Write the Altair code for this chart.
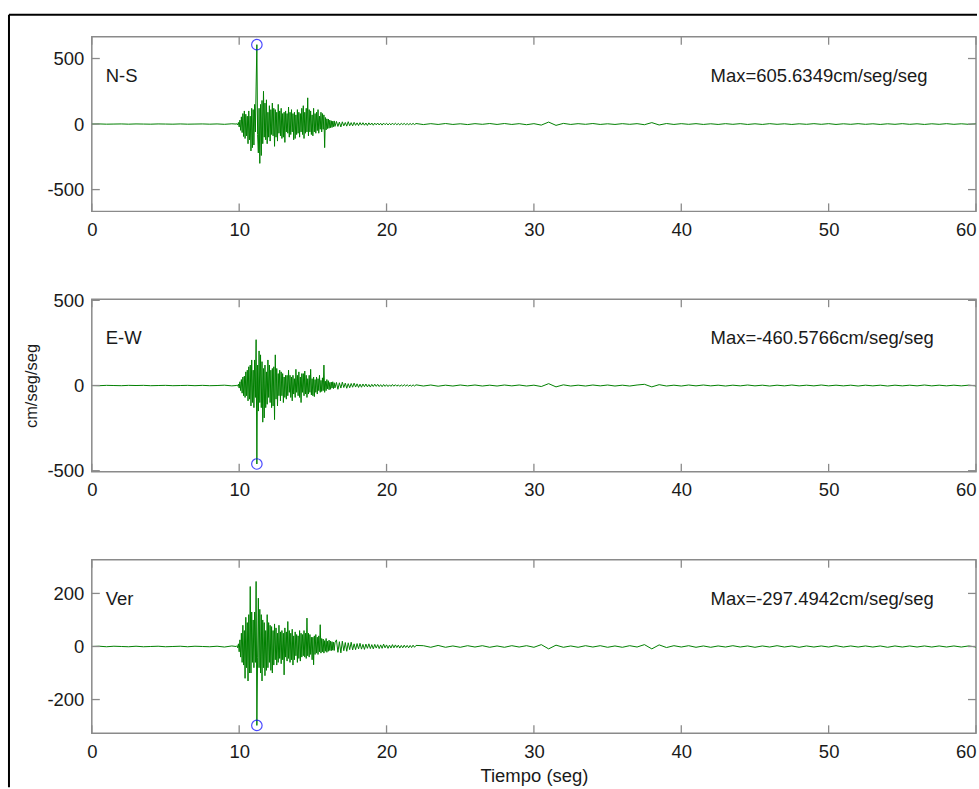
import altair as alt
import pandas as pd

# ---------------- data ----------------
components = ["N-S", "E-W", "Ver"]
max_labels = ["Max=605.6349cm/seg/seg", "Max=-460.5766cm/seg/seg", "Max=-297.4942cm/seg/seg"]
peak_t = [11.2, 11.2, 11.2]
peak_v = [605.6349, -460.5766, -297.4942]
y_ticks = [[-500, 0, 500], [-500, 0, 500], [-200, 0, 200]]
x_ticks = [0, 10, 20, 30, 40, 50, 60]

# sampling grid of each segment: (start, step)
seg_pre = (0.0, 0.5)
seg_strong = (9.8, 0.05)
seg_coda1 = (16.6, 0.1)
seg_coda2 = (22.5, 0.5)

# N-S
pre_ns = [0, 1, -1, 0, 1, -1, 1, 0, -1, 1, 0, -1, 1, -1, 0, 1, -1, 1, -2, 2]
strong_ns = [0, 3, -6, 12, -22, 30, -48, 55, -65, 80,
             -95, 100, -110, 75, -90, 60, -150, 100, -120, 60,
             -205, 120, -180, 110, -160, 150, -60, 290, 605.6349, -80,
             -220, 120, -300, 150, -240, 180, -150, 250, -100, 160,
             -120, 185, -150, 90, -100, 140, -130, 110, -80, 160,
             -90, 120, -170, 110, -100, 90, -130, 150, -70, 100,
             -90, 120, -110, 80, -100, 90, -140, 100, -60, 80,
             -70, 130, -100, 90, -80, 110, -60, 80, -120, 90,
             -110, 70, -80, 110, -70, 90, -100, 80, -60, 120,
             -80, 140, -110, 90, -70, 120, -60, 200, -90, 110,
             -60, 100, -80, 70, -90, 120, -60, 80, -70, 90,
             -50, 110, -70, 60, -40, 90, -60, 80, -40, 70,
             -180, 50, -45, 40, -35, 38, -32, 30, -28, 25,
             -26, 22, -20, 24, -18]
coda1_ns = [20, -18, 15, -22, 17, -14, 12, -16, 18, -13,
            11, -14, 13, -10, 9, -12, 11, -8, 10, -9,
            8, -11, 9, -7, 8, -9, 7, -6, 8, -7,
            6, -8, 7, -5, 6, -7, 5, -6, 7, -5,
            6, -5, 4, -6, 5, -4, 5, -5, 4, -5,
            4, -4, 5, -4, 4]
coda2_ns = [-4, 3, -3, 4, -3, 2, -4, 3, -2, 4,
            -3, 4, -3, 3, -5, 3, -8, 15, -10, 5,
            -3, 3, -2, 4, -3, 2, -3, 3, -2, 3,
            -5, 11, -7, 4, -3, 3, -2, 3, -3, 2,
            -3, 3, -2, 3, -3, 2, -3, 3, -2, 2,
            -3, 2, -2, 3, -2, 3, -3, 2, -2, 3,
            -2, 2, -3, 2, -2, 3, -2, 2, -3, 2,
            -2, 3, -2, 2, -2, 2]

# E-W
pre_ew = [0, -1, 1, 0, -1, 1, 0, 1, -1, 0, 1, -1, 0, 1, -1, 1, -1, 0, 2, -2]
strong_ew = [0, 2, -4, 8, -15, 22, -30, 35, -45, 50,
             -60, 55, -70, 80, -60, 90, -90, 110, -80, 120,
             -120, 150, -100, 90, -130, 150, -70, 269, -460.5766, 120,
             -150, 203, -100, 180, -130, 140, -215, 100, -190, 120,
             -130, 80, -110, 150, -70, 120, -100, 90, -130, 100,
             -120, 110, -200, 180, -80, 100, -120, 70, -60, 90,
             -90, 80, -60, 70, -100, 50, -70, 60, -80, 60,
             -60, 90, -40, 60, -70, 50, -90, 60, -50, 40,
             -70, 95, -40, 60, -60, 80, -70, 50, -100, 70,
             -40, 70, -60, 85, -50, 60, -70, 40, -50, 60,
             -40, 95, -55, 40, -60, 50, -65, 35, -40, 50,
             -50, 40, -30, 60, -40, 30, -35, 45, -30, 120,
             -40, 25, -30, 35, -20, 28, -25, 18, -22, 20,
             -15, 22, -18, 16, -14]
coda1_ew = [18, -22, 16, -15, 20, -12, 14, -16, 11, -13,
            12, -10, 14, -9, 10, -11, 8, -10, 9, -7,
            9, -8, 6, -9, 7, -6, 8, -5, 7, -6,
            5, -7, 6, -5, 5, -6, 4, -5, 6, -4,
            5, -4, 4, -5, 4, -4, 5, -3, 4, -4,
            3, -4, 4, -3, 4]
coda2_ew = [-3, 3, -4, 2, -3, 3, -2, 3, -3, 2,
            -3, 3, -2, 3, -3, 2, -6, 11, -8, 4,
            -3, 2, -3, 3, -2, 3, -3, 2, -3, 3,
            7, -8, 5, -3, 2, -3, 3, -2, 3, -2,
            2, -3, 2, -2, 3, -2, 2, -3, 2, -2,
            3, -2, 2, -2, 3, -2, 2, -2, 2, -3,
            2, -2, 2, -3, 2, -2, 2, -2, 3, -2,
            2, -2, 2, -2, 2, -2]

# Ver
pre_ve = [0, 1, -1, 1, 0, -1, 1, -1, 0, 1, -1, 0, 1, -1, 1, 0, -1, 1, -2, 2]
strong_ve = [0, 3, -5, 10, -20, 25, -40, 50, -60, 80,
             -70, 60, -120, 110, -80, 90, -130, 120, -100, 226,
             -100, 130, -60, 100, -80, 130, -60, 245, -297.4942, -40,
             182, -80, 140, -100, 120, -130, 100, -80, 90, -110,
             60, -90, 120, -80, 90, -60, 80, -90, 75, -100,
             60, -70, 85, -50, 70, -70, 50, -60, 80, -45,
             55, -65, 60, -50, 50, -107, 70, -40, 55, -55,
             94, -45, 60, -60, 50, -50, 65, -70, 40, -50,
             55, -35, 45, -60, 40, -45, 60, -55, 50, -40,
             45, -35, 60, -40, 50, -45, 107, -35, 50, -40,
             45, -30, 35, -50, 35, -69, 40, -30, 45, -25,
             35, -30, 40, -20, 82, -25, 30, -20, 28, -25,
             22, -18, 30, -22, 20, -18, 24, -15, 20, -16,
             18, -14, 16, -15, 14]
coda1_ve = [25, -22, 18, -24, 20, -16, 15, -18, 14, -12,
            16, -13, 10, -12, 11, -9, 12, -10, 8, -11,
            9, -7, 10, -8, 7, -9, 8, -6, 7, -8,
            6, -7, 9, -5, 6, -7, 5, -6, 7, -5,
            6, -4, 5, -6, 4, -5, 5, -4, 4, -5,
            4, -4, 5, -3, 4]
coda2_ve = [3, -3, 4, -3, 2, -3, 3, -2, 3, -3,
            2, -3, 3, -2, 3, -3, 7, -9, 5, -3,
            2, -3, 3, -2, 3, -3, 2, -3, 3, -2,
            7, -9, 6, -4, 3, -2, 3, -3, 2, -3,
            2, -2, 3, -2, 2, -3, 2, -2, 3, -2,
            2, -3, 2, -2, 2, -2, 3, -2, 2, -2,
            2, -2, 2, -3, 2, -2, 2, -2, 2, -2,
            2, -2, 2, -2, 2, -2]

segments = [
    (pre_ns, strong_ns, coda1_ns, coda2_ns),
    (pre_ew, strong_ew, coda1_ew, coda2_ew),
    (pre_ve, strong_ve, coda1_ve, coda2_ve),
]


def build_series(parts):
    ts, vs = [], []
    for (start, step), vals in zip([seg_pre, seg_strong, seg_coda1, seg_coda2], parts):
        for k, v in enumerate(vals):
            ts.append(round(start + step * k, 3))
            vs.append(v)
    return pd.DataFrame({"t": ts, "v": vs})


# ---------------- styling ----------------
W = 886
HEIGHTS = [175, 173, 174]
FONT = "Liberation Sans"
FS = 18.5
BOX = "#8a8a8a"
TXT = "#1a1a1a"
GREEN = "#008000"


def panel(i):
    H = HEIGHTS[i]
    df = build_series(segments[i])
    ymax = abs(peak_v[i]) * 1.1

    x_axis = alt.Axis(values=x_ticks, labelExpr="'' + datum.value", ticks=False, domain=False,
                      grid=False, labelPadding=9, labelFlush=False,
                      labelAlign={"condition": {"test": "datum.value == 60", "value": "right"},
                                  "value": "center"},
                      labelFontSize=FS, labelFont=FONT, labelColor=TXT,
                      title="Tiempo (seg)" if i == 2 else None,
                      titleFontSize=FS, titleFont=FONT, titleFontWeight="normal",
                      titleColor=TXT, titlePadding=6)
    y_axis = alt.Axis(values=y_ticks[i], labelExpr="'' + datum.value", ticks=False,
                      domain=False, grid=False, labelPadding=8, labelFontSize=FS,
                      labelFont=FONT, labelColor=TXT,
                      title="cm/seg/seg" if i == 1 else None, titleFontSize=16.5,
                      titleFont=FONT, titleFontWeight="normal", titleColor=TXT,
                      titlePadding=7)
    x = alt.X("t:Q", scale=alt.Scale(domain=[0, 60], nice=False, zero=False), axis=x_axis)
    y = alt.Y("v:Q", scale=alt.Scale(domain=[-ymax, ymax], nice=False, zero=False), axis=y_axis)

    line = alt.Chart(df).mark_line(color=GREEN, strokeWidth=1, clip=True).encode(x=x, y=y)

    peak = alt.Chart(pd.DataFrame({"t": [peak_t[i]], "v": [peak_v[i]]})).mark_point(
        shape="circle", size=110, filled=False, color="#0000ff", strokeWidth=1.2
    ).encode(x=x, y=y)

    xt = pd.DataFrame({"t": x_ticks})
    yt = pd.DataFrame({"v": y_ticks[i]})
    tick_style = dict(color=BOX, strokeWidth=1.3)
    xt_bot = alt.Chart(xt).mark_rule(**tick_style).encode(x=x, y=alt.value(H - 8), y2=alt.value(H))
    xt_top = alt.Chart(xt).mark_rule(**tick_style).encode(x=x, y=alt.value(0), y2=alt.value(8))
    yt_left = alt.Chart(yt).mark_rule(**tick_style).encode(y=y, x=alt.value(0), x2=alt.value(8))
    yt_right = alt.Chart(yt).mark_rule(**tick_style).encode(y=y, x=alt.value(W - 8), x2=alt.value(W))

    ann = pd.DataFrame({"name": [components[i]], "maxtxt": [max_labels[i]]})
    name_txt = alt.Chart(ann).mark_text(align="left", baseline="middle", fontSize=FS,
                                        font=FONT, color=TXT).encode(
        x=alt.value(14), y=alt.value(39), text="name:N")
    max_txt = alt.Chart(ann).mark_text(align="left", baseline="middle", fontSize=FS,
                                       font=FONT, color=TXT).encode(
        x=alt.value(620), y=alt.value(39), text="maxtxt:N")

    layers = [line, xt_bot, xt_top, yt_left, yt_right, peak, name_txt, max_txt]

    if i == 0:
        one = pd.DataFrame({"k": [0]})
        frame_left = alt.Chart(one).mark_rule(color="black", strokeWidth=2).encode(
            x=alt.value(-83), y=alt.value(-22), y2=alt.value(752))
        frame_top = alt.Chart(one).mark_rule(color="black", strokeWidth=2).encode(
            x=alt.value(-83), x2=alt.value(887), y=alt.value(-22))
        layers += [frame_left, frame_top]

    return alt.layer(*layers).properties(width=W, height=H)


chart = alt.vconcat(panel(0), panel(1), panel(2), spacing=88, bounds="flush").properties(
    padding={"left": 7, "top": 12, "right": 0, "bottom": 0},
    background="white",
).configure_view(stroke=BOX, strokeWidth=1.5)

chart.save("out.html", embed_options={"renderer": "svg", "actions": False})
